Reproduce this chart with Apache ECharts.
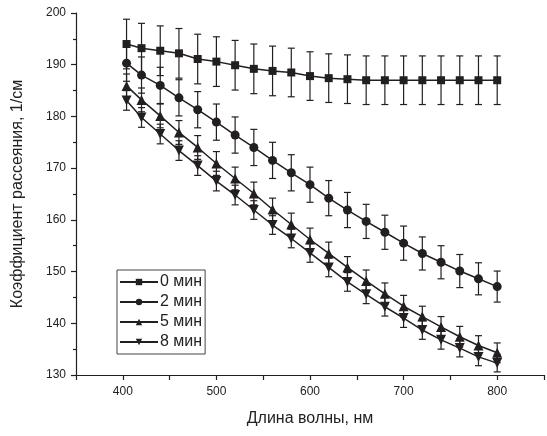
<!DOCTYPE html>
<html><head><meta charset="utf-8">
<script src="https://cdn.jsdelivr.net/npm/echarts@6/dist/echarts.min.js"></script>
<style>html,body{margin:0;padding:0;background:#fff}#c{width:547px;height:436px}</style>
</head><body><div id="c"></div>
<script>
var wavelength = [404,420,440,460,480,500,520,540,560,580,600,620,640,660,680,700,720,740,760,780,800];
var names = ['0 мин','2 мин','5 мин','8 мин'];
var s0 = [194.0,193.2,192.7,192.2,191.1,190.6,189.9,189.2,188.8,188.5,187.8,187.4,187.2,187.0,187.0,187.0,187.0,187.0,187.0,187.0,187.0];
var e0 = [4.8,4.8,4.8,4.8,4.8,4.8,4.8,4.8,4.8,4.7,4.7,4.7,4.7,4.7,4.7,4.7,4.7,4.7,4.7,4.7,4.7];
var s2 = [190.3,188.0,186.0,183.6,181.3,178.9,176.4,174.0,171.5,169.1,166.8,164.2,161.9,159.7,157.6,155.5,153.5,151.8,150.1,148.6,147.1];
var e2 = [3.5,3.5,3.5,3.5,3.5,3.5,3.5,3.5,3.5,3.5,3.4,3.4,3.4,3.3,3.3,3.3,3.2,3.2,3.2,3.1,3.0];
var s5 = [185.9,183.2,180.1,176.9,174.0,170.9,168.0,165.1,162.0,159.1,156.2,153.5,150.8,148.2,145.7,143.3,141.3,139.3,137.4,135.7,134.3];
var e5 = [2.3,2.3,2.3,2.3,2.3,2.3,2.2,2.2,2.2,2.2,2.2,2.2,2.1,2.1,2.1,2.1,2.0,2.0,2.0,1.9,1.9];
var s8 = [183.1,179.8,176.6,173.4,170.5,167.5,164.8,161.9,159.0,156.4,153.6,150.8,148.0,145.6,143.2,141.0,138.7,136.8,135.2,133.5,132.3];
var e8 = [1.9,1.9,1.9,1.9,1.9,1.9,1.9,1.8,1.8,1.8,1.8,1.8,1.8,1.8,1.8,1.8,1.8,1.8,1.7,1.7,1.7];
var xTicks = [400,500,600,700,800];
var yTicks = [130,140,150,160,170,180,190,200];

var ink = '#231f20';
var symbols = ['rect','circle','triangle','path://M0,0 L10,0 L5,9 Z'];
var sizes = [8,9,10,10];
var vals = [s0,s2,s5,s8];
var errs = [e0,e2,e5,e8];

function pairs(v){ return wavelength.map(function(x,i){return [x,v[i]];}); }
function errData(v,e){ return wavelength.map(function(x,i){return [x,v[i]-e[i],v[i]+e[i]];}); }

var series = [];
vals.forEach(function(v,k){
  series.push({
    type:'custom', silent:true, z:1,
    data: errData(v,errs[k]),
    renderItem: function(params, api){
      var x = api.value(0);
      var lo = api.coord([x, api.value(1)]);
      var hi = api.coord([x, api.value(2)]);
      var w = 3.5;
      var st = {stroke: ink, lineWidth: 1.2};
      return {type:'group', children:[
        {type:'line', shape:{x1:lo[0],y1:lo[1],x2:hi[0],y2:hi[1]}, style:st},
        {type:'line', shape:{x1:lo[0]-w,y1:lo[1],x2:lo[0]+w,y2:lo[1]}, style:st},
        {type:'line', shape:{x1:hi[0]-w,y1:hi[1],x2:hi[0]+w,y2:hi[1]}, style:st}
      ]};
    }
  });
});
vals.forEach(function(v,k){
  series.push({
    name: names[k], type:'line', z:3,
    data: pairs(v),
    symbol: symbols[k], symbolSize: sizes[k], showSymbol:true,
    lineStyle:{color:ink, width:1.5},
    itemStyle:{color:ink, borderColor:ink, borderWidth:0},
    animation:false
  });
});

var chart = echarts.init(document.getElementById('c'), null, {renderer:'canvas'});
var font = 'Liberation Sans, Arial, sans-serif';
chart.setOption({
  animation:false,
  backgroundColor:'#fff',
  textStyle:{fontFamily:font},
  grid:{left:76, right:1, top:13, bottom:61, containLabel:false},
  legend:{
    data: names, orient:'vertical', left:117, top:270,
    itemWidth:38, itemHeight:8, itemGap:4,
    backgroundColor:'#fff', borderColor:'#444', borderWidth:1,
    padding:[4,3,4,2],
    textStyle:{fontSize:16, color:'#222', fontFamily:font, padding:[0,0,0,-3]}
  },
  xAxis:{
    type:'value', min:350, max:850, interval:50,
    name:'Длина волны, нм', nameLocation:'middle', nameGap:36,
    nameTextStyle:{fontSize:16, color:'#222', fontFamily:font},
    axisLine:{lineStyle:{color:ink, width:1.2}},
    axisTick:{show:true, inside:false, length:5, lineStyle:{color:ink, width:1.2}},
    axisLabel:{margin:11, fontSize:12, color:'#222', fontFamily:font,
      formatter:function(v){ return xTicks.indexOf(v)>=0 ? String(v) : ''; }},
    splitLine:{show:false}
  },
  yAxis:{
    type:'value', min:130, max:200, interval:10,
    name:'Коэффициент рассеяния, 1/см', nameLocation:'middle', nameGap:50,
    nameTextStyle:{fontSize:16, color:'#222', fontFamily:font},
    axisLine:{show:true, lineStyle:{color:ink, width:1.2}},
    axisTick:{show:true, inside:false, length:5, lineStyle:{color:ink, width:1.2}},
    minorTick:{show:true, splitNumber:2, length:3, lineStyle:{color:ink, width:1.2}},
    axisLabel:{margin:10, fontSize:12, color:'#222', fontFamily:font,
      formatter:function(v){ return yTicks.indexOf(v)>=0 ? String(v) : ''; }},
    splitLine:{show:false}
  },
  series: series
});
</script></body></html>
